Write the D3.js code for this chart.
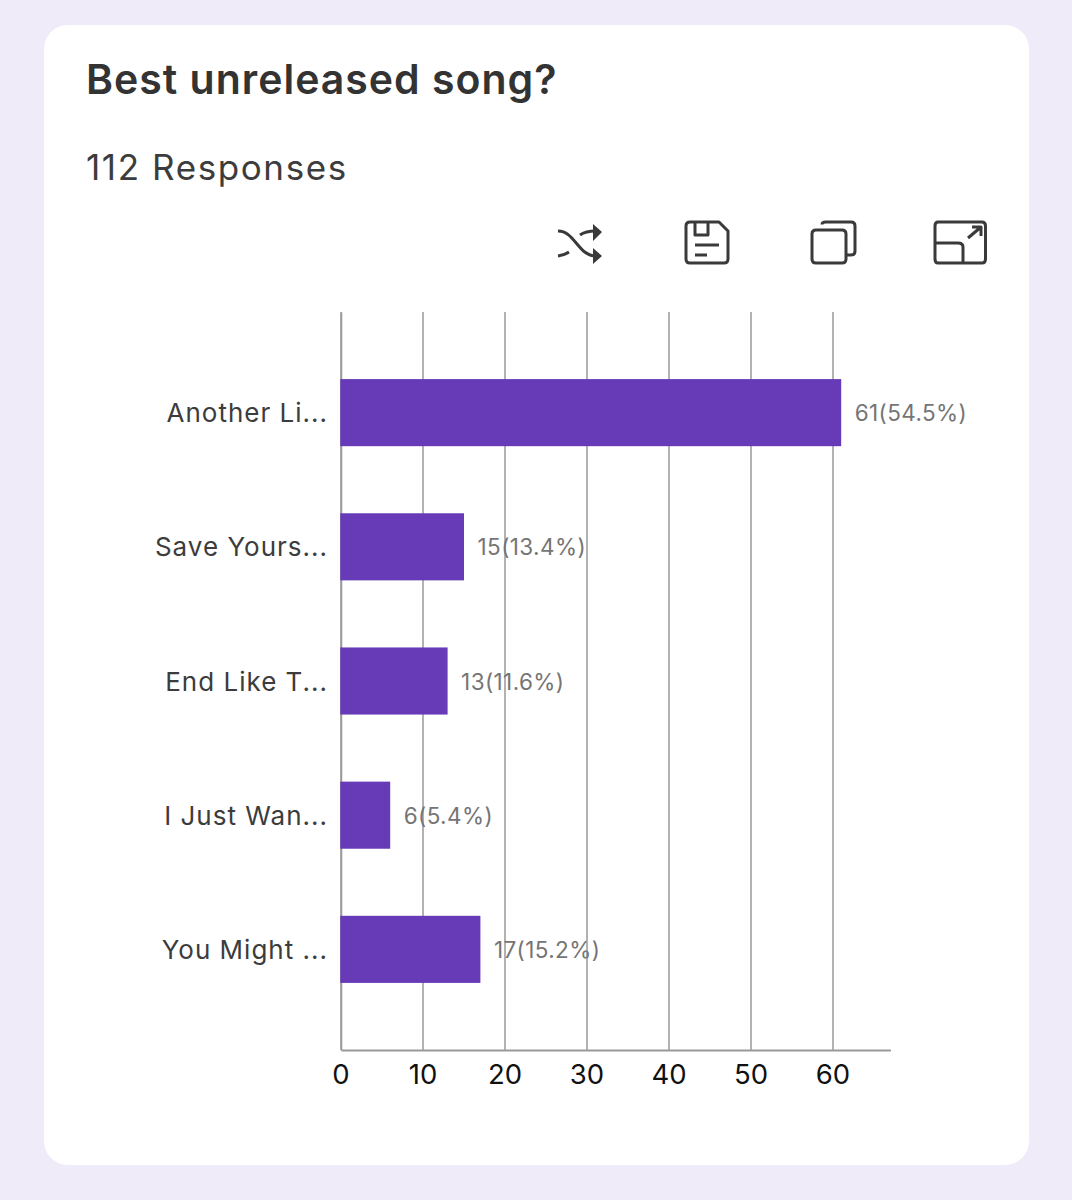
<!DOCTYPE html>
<html>
<head>
<meta charset="utf-8">
<script src="https://cdn.jsdelivr.net/npm/d3@7/dist/d3.min.js"></script>
<style>
html,body{margin:0;padding:0;background:#efebf9;}
svg{display:block;}
</style>
</head>
<body>
<svg id="c" width="1072" height="1200"></svg>
<script>
const categories = ["Another Li...", "Save Yours...", "End Like T...", "I Just Wan...", "You Might ..."];
const values = [61, 15, 13, 6, 17];
const valueLabels = ["61(54.5%)", "15(13.4%)", "13(11.6%)", "6(5.4%)", "17(15.2%)"];
const xTicks = [0, 10, 20, 30, 40, 50, 60];
const titleText = "Best unreleased song?";
const subtitleText = "112 Responses";

const svg = d3.select("#c");
const font = "Inter, 'Noto Sans', sans-serif";
svg.append("rect").attr("width",1072).attr("height",1200).attr("fill","#efebf9");
svg.append("rect").attr("x",44).attr("y",25).attr("width",985).attr("height",1140).attr("rx",24).attr("fill","#fff");

svg.append("text").attr("x",86).attr("y",94).text(titleText)
  .attr("font-family",font).attr("font-size",41).attr("font-weight",600).attr("fill","#333")
  .attr("letter-spacing",1);
svg.append("text").attr("x",86).attr("y",180).text(subtitleText)
  .attr("font-family",font).attr("font-size",35).attr("fill","#3c3c3c")
  .attr("letter-spacing",1.6);

const x = d3.scaleLinear().domain([0,67]).range([341,890.4]);
const y = d3.scaleBand().domain(categories).range([312,1050]).paddingInner(0.5).paddingOuter(0.5);

const gridColor = "#999";
svg.append("g").selectAll("line").data(xTicks).join("line")
  .attr("x1",d=>x(d)).attr("x2",d=>x(d)).attr("y1",312).attr("y2",1050)
  .attr("stroke",gridColor).attr("stroke-width",1.5);

const yAxis = svg.append("g").attr("transform","translate(341,0)")
  .call(d3.axisLeft(y).tickSize(0).tickPadding(13));
yAxis.select(".domain").attr("stroke",gridColor).attr("stroke-width",1.5);
yAxis.selectAll("text").attr("font-family",font).attr("font-size",26).attr("fill","#3c3c3c")
  .attr("dy","0.37em").attr("letter-spacing",1);

const xAxis = svg.append("g").attr("transform","translate(0,1050)")
  .call(d3.axisBottom(x).tickValues(xTicks).tickSize(0).tickPadding(14));
xAxis.select(".domain").attr("stroke",gridColor).attr("stroke-width",2);
xAxis.selectAll("text").attr("font-family",font).attr("font-size",27.5).attr("fill","#111").attr("dx",-0.5);

svg.append("g").selectAll("rect").data(values).join("rect")
  .attr("x",x(0)-0.75).attr("y",(d,i)=>y(categories[i]))
  .attr("width",d=>x(d)-x(0)+0.75).attr("height",y.bandwidth()).attr("fill","#673ab7");

svg.append("g").selectAll("text").data(valueLabels).join("text")
  .attr("x",(d,i)=>x(values[i])+13.5).attr("y",(d,i)=>y(categories[i])+y.bandwidth()/2+8.5)
  .text(d=>d).attr("font-family",font).attr("font-size",22.5).attr("fill","#757575")
  .attr("letter-spacing",0.4);

// toolbar icons
const ic = svg.append("g").attr("fill","none").attr("stroke","#3a3a3a").attr("stroke-width",3).attr("stroke-linejoin","round");
ic.append("path").attr("d","M558 231 C575 231 578 256 596 256 M558 256 C563 255.500 566 254 569 252 M580 235 C584 232 588 231 596 231");
ic.append("path").attr("fill","#3a3a3a").attr("stroke","none").attr("d","M593 224 L602 232 L593 241Z M593 248 L602 256 L593 264Z");
ic.append("path").attr("d","M690 222 H719 L728 231 V259 Q728 263 724 263 H690 Q686 263 686 259 V226 Q686 222 690 222Z M695 222 V235 H708 V222 M695 245 H719 M695 255 H707");
ic.append("path").attr("d","M822 224.500 Q822 222 826 222 H851 Q855 222 855 226 V251 Q855 255 851 255 H846 M816 230 H842 Q846 230 846 234 V259 Q846 263 842 263 H816 Q812 263 812 259 V234 Q812 230 816 230Z");
ic.append("path").attr("d","M938 222 H982 Q985.500 222 985.500 226 V259 Q985.500 263 982 263 H938 Q935 263 935 259 V226 Q935 222 938 222Z M935 243 H958 Q963 243 963 247 V263 M968 238 L981 227 M972 227 H981 V236");
</script>
</body>
</html>
